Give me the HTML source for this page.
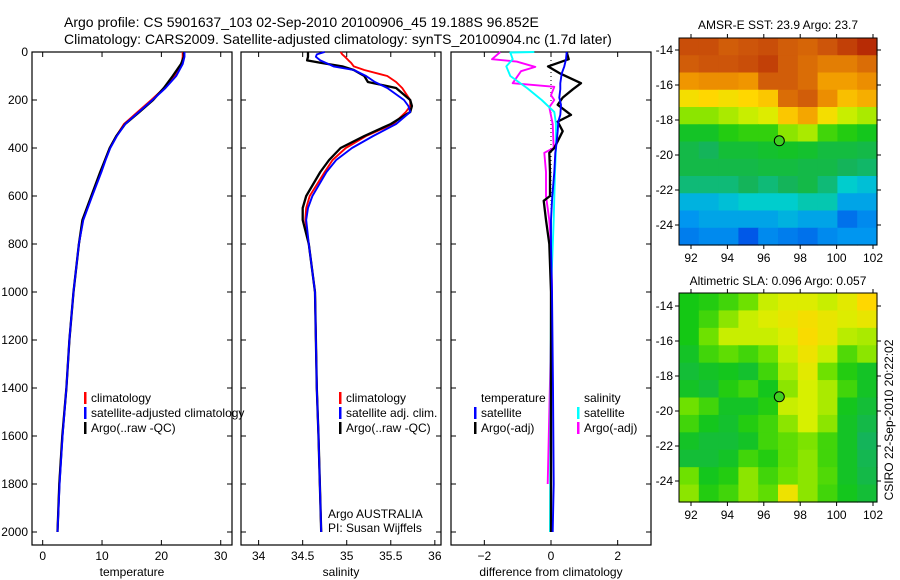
<!DOCTYPE html>
<html><head><meta charset="utf-8">
<style>
html,body{margin:0;padding:0;background:#fff;}
svg{display:block;font-family:"Liberation Sans",sans-serif;}
</style></head>
<body>
<svg id="fig" width="900" height="580" viewBox="0 0 900 580" xmlns="http://www.w3.org/2000/svg">
<rect width="900" height="580" fill="#fff"/>
<text x="64" y="27" font-size="14">Argo profile: CS 5901637_103 02-Sep-2010 20100906_45 19.188S 96.852E</text>
<text x="64" y="44" font-size="14">Climatology: CARS2009. Satellite-adjusted climatology: synTS_20100904.nc (1.7d later)</text>
<g id="g1"></g>
<g id="g2"></g>
<g id="g3"></g>
<g id="m1"></g>
<g id="m2"></g>
<text transform="translate(893,420) rotate(-90)" font-size="12" text-anchor="middle">CSIRO 22-Sep-2010 20:22:02</text>
</svg>
<script>
// ---------- data ----------
const tDepth = [0,20,50,100,150,200,250,300,350,400,450,500,600,700,800,1000,1200,1400,1600,1800,2000];
const tClim  = [23.6,23.6,23.4,22.2,20.5,18.3,16.0,13.7,12.4,11.3,10.5,9.8,8.3,6.8,6.1,5.2,4.5,4.0,3.3,2.8,2.5];
const tSat   = [23.9,23.9,23.6,22.5,20.7,18.5,16.2,13.9,12.5,11.4,10.6,9.9,8.35,6.85,6.1,5.2,4.5,4.0,3.35,2.85,2.5];
const tArgo  = [23.8,23.8,23.3,21.9,20.4,18.6,16.3,13.9,12.4,11.3,10.5,9.7,8.2,6.7,6.1,5.2,4.5,4.0,3.3,2.8,2.5];

const sDepth = [0,10,20,35,45,60,75,100,125,150,200,225,250,300,350,400,450,500,600,650,700,800,1000,1400,1600,2000];
const sClim  = [34.93,34.95,34.98,35.02,35.05,35.08,35.2,35.46,35.56,35.63,35.72,35.72,35.67,35.53,35.22,34.99,34.84,34.75,34.58,34.54,34.53,34.57,34.64,34.66,34.68,34.71];
const sSat   = [34.75,34.66,34.65,34.7,34.76,34.85,35.08,35.22,35.32,35.46,35.65,35.7,35.72,35.56,35.3,35.06,34.88,34.77,34.61,34.56,34.54,34.57,34.64,34.66,34.68,34.71];
const sArgo  = [34.56,34.56,34.56,34.55,34.7,34.95,35.08,35.2,35.24,35.56,35.72,35.74,35.72,35.5,35.2,34.93,34.8,34.7,34.54,34.5,34.5,34.57,34.64,34.66,34.68,34.71];

const dDepth   = [0,30,60,90,130,155,190,220,262,290,330,400,420,500,600,620,700,800,1000,1400,1800,2000];
const dTempSat = [0.47,0.45,0.4,0.32,0.28,0.28,0.25,0.3,0.28,0.22,0.2,0.15,0.13,0.1,0.04,0.03,0.0,0.0,0.03,0.06,0.08,0.05];
const dTempArg = [0.47,0.53,-0.09,0.28,0.9,0.66,0.35,0.2,0.6,0.2,0.35,0.1,-0.05,-0.03,-0.03,-0.22,-0.15,-0.05,0.0,0.0,0.0,0.0];
const dSalDepth = [0,2,30,60,100,150,200,250,300,400,500,700,1000,2000];
const dSalSat   = [-0.5,-1.22,-1.15,-1.34,-1.22,-0.72,-0.28,0.1,0.15,0.15,0.12,0.08,0.0,-0.03];
const dSalArgDepth = [0,30,40,62,80,130,145,180,200,230,300,400,420,500,600,700,800,1000,1800];
const dSalArg      = [-1.52,-1.77,-1.03,-0.47,-0.9,-1.15,0.1,0.0,0.1,-0.05,0.05,0.08,-0.2,-0.15,-0.15,-0.05,0.0,0.03,-0.1];

const depthTicks = [0,200,400,600,800,1000,1200,1400,1600,1800,2000];
const tempTicks = [0,10,20,30];
const salTicks = [34,34.5,35,35.5,36];
const diffTicks = [-2,0,2];
const lonTicks = [92,94,96,98,100,102];
const latTicks = [-14,-16,-18,-20,-22,-24];

const sstGrid = [
[.89,.89,.87,.88,.89,.87,.86,.88,.91,.94],
[.87,.88,.88,.89,.91,.87,.85,.83,.83,.85],
[.8,.81,.81,.8,.87,.87,.85,.79,.79,.81],
[.7,.72,.7,.72,.74,.85,.87,.81,.75,.77],
[.6,.6,.62,.64,.66,.74,.78,.7,.64,.62],
[.5,.5,.53,.54,.54,.6,.62,.55,.53,.51],
[.46,.44,.48,.48,.49,.5,.49,.47,.47,.46],
[.46,.46,.46,.46,.47,.47,.46,.46,.44,.43],
[.42,.42,.42,.44,.42,.44,.46,.42,.36,.34],
[.32,.32,.34,.36,.36,.36,.38,.38,.3,.3],
[.28,.3,.3,.3,.3,.32,.3,.3,.22,.26],
[.24,.26,.26,.18,.26,.24,.22,.26,.28,.28]];
const slaGrid = [
[.52,.53,.55,.58,.64,.66,.66,.64,.67,.72],
[.52,.55,.6,.64,.66,.68,.7,.68,.66,.68],
[.52,.58,.64,.64,.64,.66,.71,.68,.63,.62],
[.5,.55,.57,.55,.58,.64,.69,.64,.56,.6],
[.48,.5,.51,.49,.55,.62,.67,.58,.53,.5],
[.5,.48,.53,.55,.51,.6,.65,.62,.55,.5],
[.58,.55,.5,.5,.53,.64,.65,.62,.51,.48],
[.55,.51,.49,.53,.55,.6,.65,.6,.5,.46],
[.5,.48,.48,.5,.55,.57,.59,.55,.5,.44],
[.48,.48,.5,.55,.53,.57,.6,.55,.5,.45],
[.58,.51,.53,.6,.55,.58,.6,.56,.5,.46],
[.6,.53,.55,.6,.57,.69,.6,.55,.51,.48]];
const argoLon = 96.852, argoLat = -19.188;

// ---------- helpers ----------
const NS = "http://www.w3.org/2000/svg";
function mk(parent, tag, attrs, txt){const e=document.createElementNS(NS,tag);for(const k in attrs)e.setAttribute(k,attrs[k]);if(txt!==undefined)e.textContent=txt;parent.appendChild(e);return e;}
const top0=52, bot=545, y=d=>top0+d*0.24;

function panel(g, x0, x1, vmin, vmax, ticks, fmt, title, showDepth){
  const x=v=>x0+(v-vmin)/(vmax-vmin)*(x1-x0);
  const r=mk(g,'rect',{x:x0,y:top0,width:x1-x0,height:bot-top0,fill:'none',stroke:'#000','stroke-width':1.2});
  
  
  depthTicks.forEach(d=>{
    mk(g,'line',{x1:x0,x2:x0+5,y1:y(d),y2:y(d),stroke:'#000'});
    mk(g,'line',{x1:x1,x2:x1-5,y1:y(d),y2:y(d),stroke:'#000'});
    if(showDepth){const t=mk(g,'text',{x:x0-4,y:y(d)+4,'font-size':12,'text-anchor':'end'},String(d));
      
      }
  });
  ticks.forEach(v=>{
    mk(g,'line',{x1:x(v),x2:x(v),y1:bot,y2:bot-5,stroke:'#000'});
    mk(g,'line',{x1:x(v),x2:x(v),y1:top0,y2:top0+5,stroke:'#000'});
    const t=mk(g,'text',{x:x(v),y:560,'font-size':12,'text-anchor':'middle'},fmt(v));
    
    
  });
  const tt=mk(g,'text',{x:(x0+x1)/2,y:576,'font-size':12,'text-anchor':'middle'},title);
  
  
  return x;
}
function line(g,x,depths,vals,color,name,w){
  const p=mk(g,'polyline',{points:depths.map((d,i)=>x(vals[i]).toFixed(1)+','+y(d).toFixed(1)).join(' '),fill:'none',stroke:color,'stroke-width':w||1.9,'stroke-linejoin':'round'});
  
  
}
function legend(g,xm,yy,color,label){
  if(color) mk(g,'rect',{x:xm,y:yy-10,width:2.5,height:12,fill:color});
  const t=mk(g,'text',{x:xm+7,y:yy,'font-size':12},label);
  
  
}

// panel 1
const g1=document.getElementById('g1');
const xt=panel(g1,32,232,-1.8,31.9,tempTicks,String,'temperature',true);
line(g1,xt,tDepth,tClim,'#f00','temp-climatology-line');
line(g1,xt,tDepth,tArgo,'#000','temp-argo-line',2.3);
line(g1,xt,tDepth,tSat,'#00f','temp-satellite-line');
legend(g1,84,402,'#f00','climatology');
legend(g1,84,417,'#00f','satellite-adjusted climatology');
legend(g1,84,432,'#000','Argo(..raw -QC)');

// panel 2
const g2=document.getElementById('g2');
const xs=panel(g2,241,441,33.8,36.07,salTicks,String,'salinity',false);
line(g2,xs,sDepth,sClim,'#f00','sal-climatology-line');
line(g2,xs,sDepth,sArgo,'#000','sal-argo-line',2.3);
line(g2,xs,sDepth,sSat,'#00f','sal-satellite-line');
legend(g2,339,402,'#f00','climatology');
legend(g2,339,417,'#00f','satellite adj. clim.');
legend(g2,339,432,'#000','Argo(..raw -QC)');
legend(g2,321,518,null,'Argo AUSTRALIA');
legend(g2,321,532,null,'PI: Susan Wijffels');

// panel 3
const g3=document.getElementById('g3');
const xd=panel(g3,451,651,-3,3,diffTicks,v=>v===0?'0':String(v).replace('-','\u2212'),'difference from climatology',false);
mk(g3,'line',{x1:xd(0),x2:xd(0),y1:top0,y2:bot-13,stroke:'#000','stroke-dasharray':'1,3'});
line(g3,xd,dSalArgDepth,dSalArg,'#f0f','diff-sal-argo-line');
line(g3,xd,dSalDepth,dSalSat,'#0ff','diff-sal-satellite-line');
line(g3,xd,dDepth,dTempArg,'#000','diff-temp-argo-line',2.3);
line(g3,xd,dDepth,dTempSat,'#00f','diff-temp-satellite-line');
legend(g3,474,402,null,'temperature');
legend(g3,474,417,'#00f','satellite');
legend(g3,474,432,'#000','Argo(-adj)');
legend(g3,577,402,null,'salinity');
legend(g3,577,417,'#0ff','satellite');
legend(g3,577,432,'#f0f','Argo(-adj)');

// maps
const stops=[[0,[0,20,150]],[0.15,[0,70,230]],[0.28,[0,150,240]],[0.36,[0,205,205]],[0.44,[20,180,90]],[0.52,[20,200,20]],[0.58,[110,225,0]],[0.65,[215,240,0]],[0.72,[255,215,0]],[0.8,[240,150,0]],[0.88,[205,85,10]],[1,[160,0,0]]];
function cmap(v){for(let i=1;i<stops.length;i++){if(v<=stops[i][0]){const a=stops[i-1],b=stops[i],f=(v-a[0])/(b[0]-a[0]);return 'rgb('+a[1].map((c,k)=>Math.round(c+(b[1][k]-c)*f)).join(',')+')';}}return 'rgb(160,0,0)';}
function drawMap(id,grid,x0,x1,y0,y1,lat14y,lat24y,title,titleY){
  const g=document.getElementById(id);
  const lx=lon=>691+(lon-92)*18.2;
  const ly=lat=>lat14y+(-14-lat)*(lat24y-lat14y)/10;
  const rows=grid.length, cols=grid[0].length, cw=(x1-x0)/cols, ch=(y1-y0)/rows;
  grid.forEach((row,r)=>row.forEach((v,c)=>{
    const cell=mk(g,'rect',{x:(x0+c*cw).toFixed(2),y:(y0+r*ch).toFixed(2),width:(cw+0.6).toFixed(2),height:(ch+0.6).toFixed(2),fill:cmap(v)});
    
    
  }));
  mk(g,'rect',{x:x0,y:y0,width:x1-x0,height:y1-y0,fill:'none',stroke:'#000'});
  lonTicks.forEach(l=>{mk(g,'line',{x1:lx(l),x2:lx(l),y1:y1,y2:y1+4,stroke:'#000'});mk(g,'line',{x1:lx(l),x2:lx(l),y1:y0,y2:y0-4,stroke:'#000'});
    const t=mk(g,'text',{x:lx(l),y:y1+17,'font-size':12,'text-anchor':'middle'},String(l));
    
    });
  latTicks.forEach(l=>{mk(g,'line',{x1:x0-4,x2:x0,y1:ly(l),y2:ly(l),stroke:'#000'});mk(g,'line',{x1:x1,x2:x1+4,y1:ly(l),y2:ly(l),stroke:'#000'});
    const t=mk(g,'text',{x:x0-6,y:ly(l)+4,'font-size':12,'text-anchor':'end'},'-'+String(-l));
    
    });
  const c=mk(g,'circle',{cx:lx(argoLon),cy:ly(argoLat),r:5,fill:'#40d020',stroke:'#000'});
  
  
  const tt=mk(g,'text',{x:(x0+x1)/2,y:titleY,'font-size':12,'text-anchor':'middle'},title);
  
  
}
drawMap('m1',sstGrid,679,877,38,245,50,225,'AMSR-E SST: 23.9 Argo: 23.7',29);
drawMap('m2',slaGrid,679,877,293,502,306,481,'Altimetric SLA: 0.096 Argo: 0.057',285);
</script>
</body></html>
